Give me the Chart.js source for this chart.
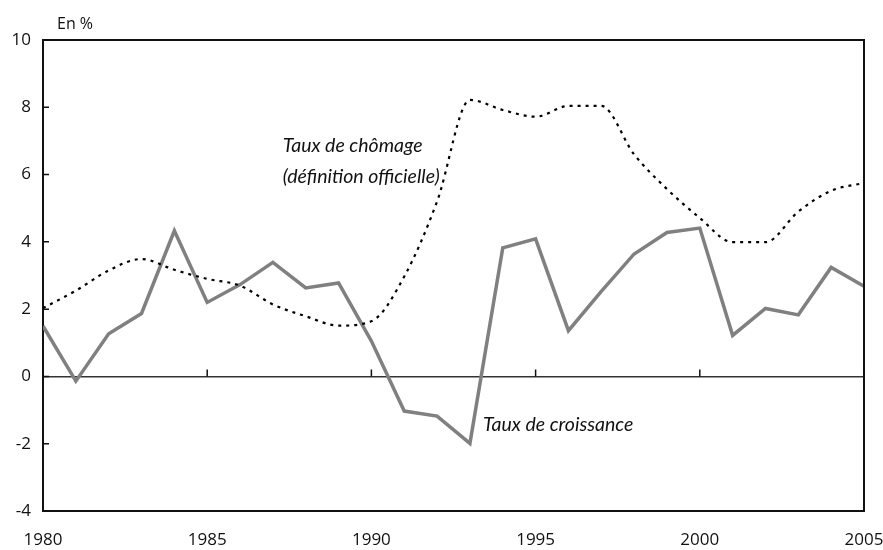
<!DOCTYPE html>
<html>
<head>
<meta charset="utf-8">
<script src="https://cdn.jsdelivr.net/npm/chart.js@4"></script>
<style>
  html, body { margin: 0; padding: 0; background: #fff; }
  #wrap { width: 883px; height: 550px; position: relative; }
</style>
</head>
<body>
<div id="wrap"><canvas id="chart"></canvas></div>
<script>
// Years on the x axis
const years = [1980, 1981, 1982, 1983, 1984, 1985, 1986, 1987, 1988, 1989,
  1990, 1991, 1992, 1993, 1994, 1995, 1996, 1997, 1998, 1999,
  2000, 2001, 2002, 2003, 2004, 2005];

// Taux de croissance (%)
const croissance = [1.5, -0.14, 1.27, 1.87, 4.33, 2.2, 2.73, 3.39, 2.63, 2.78,
  1.05, -1.03, -1.18, -1.99, 3.82, 4.09, 1.36, 2.53, 3.64, 4.28,
  4.41, 1.22, 2.02, 1.83, 3.24, 2.68];

// Taux de chômage, définition officielle (%)
const chomage = [2.03, 2.55, 3.15, 3.49, 3.17, 2.9, 2.7, 2.14, 1.79, 1.51,
  1.64, 2.97, 5.2, 8.22, 7.92, 7.72, 8.04, 8.04, 6.6, 5.57,
  4.71, 3.99, 3.99, 4.9, 5.52, 5.75];

const yTicks = [-4, -2, 0, 2, 4, 6, 8, 10];
const xTicks = [1980, 1985, 1990, 1995, 2000, 2005];

const tickFont = { family: "'Open Sans', 'DejaVu Sans', sans-serif", size: 17 };
const noteFont = "italic 19.5px Lato, 'Open Sans', sans-serif";

// frame, inward ticks and text notes
const decorations = {
  id: 'decorations',
  afterDatasetsDraw(chart) {
    const { ctx, chartArea: a, scales: { x, y } } = chart;
    ctx.save();
    ctx.strokeStyle = '#111';
    ctx.lineWidth = 2;
    ctx.beginPath();
    ctx.moveTo(a.left, a.top);
    ctx.lineTo(a.right, a.top);
    ctx.lineTo(a.right, a.bottom);
    ctx.stroke();

    ctx.lineWidth = 1.5;
    ctx.beginPath();
    yTicks.forEach(v => {
      const py = y.getPixelForValue(v);
      ctx.moveTo(a.left, py);
      ctx.lineTo(a.left + 6, py);
    });
    const y0 = y.getPixelForValue(0);
    xTicks.slice(1).forEach(v => {
      const px = x.getPixelForValue(v);
      ctx.moveTo(px, y0);
      ctx.lineTo(px, y0 - 7);
    });
    ctx.stroke();

    ctx.fillStyle = '#111';
    ctx.font = noteFont;
    ctx.textBaseline = 'alphabetic';
    ctx.textAlign = 'left';
    ctx.fillText('Taux de chômage', x.getPixelForValue(1987.3), y.getPixelForValue(6.68));
    ctx.fillText('(définition officielle)', x.getPixelForValue(1987.3), y.getPixelForValue(5.76));
    ctx.fillText('Taux de croissance', x.getPixelForValue(1993.4), y.getPixelForValue(-1.62));

    ctx.font = "16px 'Open Sans', sans-serif";
    ctx.fillText('En %', 57, 29);
    ctx.restore();
  }
};

new Chart(document.getElementById('chart'), {
  type: 'line',
  data: {
    labels: years,
    datasets: [
      {
        label: 'Taux de chômage',
        data: years.map((yr, i) => ({ x: yr, y: chomage[i] })),
        borderColor: '#000',
        borderWidth: 2.2,
        borderDash: [3, 5],
        cubicInterpolationMode: 'monotone',
        pointRadius: 0,
        fill: false
      },
      {
        label: 'Taux de croissance',
        data: years.map((yr, i) => ({ x: yr, y: croissance[i] })),
        borderColor: '#808080',
        borderWidth: 3.5,
        tension: 0,
        pointRadius: 0,
        fill: false
      }
    ]
  },
  options: {
    responsive: true,
    maintainAspectRatio: false,
    animation: false,
    layout: { padding: { top: 40, right: 19, left: 0, bottom: 0 } },
    plugins: { legend: { display: false }, tooltip: { enabled: false } },
    scales: {
      x: {
        type: 'linear',
        min: 1980,
        max: 2005,
        afterBuildTicks: axis => { axis.ticks = xTicks.map(v => ({ value: v })); },
        afterFit: axis => {
          axis.height = 39;
          axis.paddingLeft = 0;
          axis.paddingRight = 0;
        },
        grid: { display: false, drawTicks: false },
        border: { display: true, color: '#111', width: 2 },
        ticks: { color: '#111', font: tickFont, padding: 19, maxRotation: 0, callback: v => String(v) }
      },
      y: {
        min: -4,
        max: 10,
        afterBuildTicks: axis => { axis.ticks = yTicks.map(v => ({ value: v })); },
        afterFit: axis => {
          axis.width = 43;
          axis.paddingTop = 0;
          axis.paddingBottom = 0;
        },
        grid: {
          drawTicks: false,
          color: c => (c.tick && c.tick.value === 0 ? '#333' : 'rgba(0,0,0,0)'),
          lineWidth: 1.5
        },
        border: { display: true, color: '#111', width: 2 },
        ticks: { color: '#111', font: tickFont, padding: 12 }
      }
    }
  },
  plugins: [decorations]
});
</script>
</body>
</html>
